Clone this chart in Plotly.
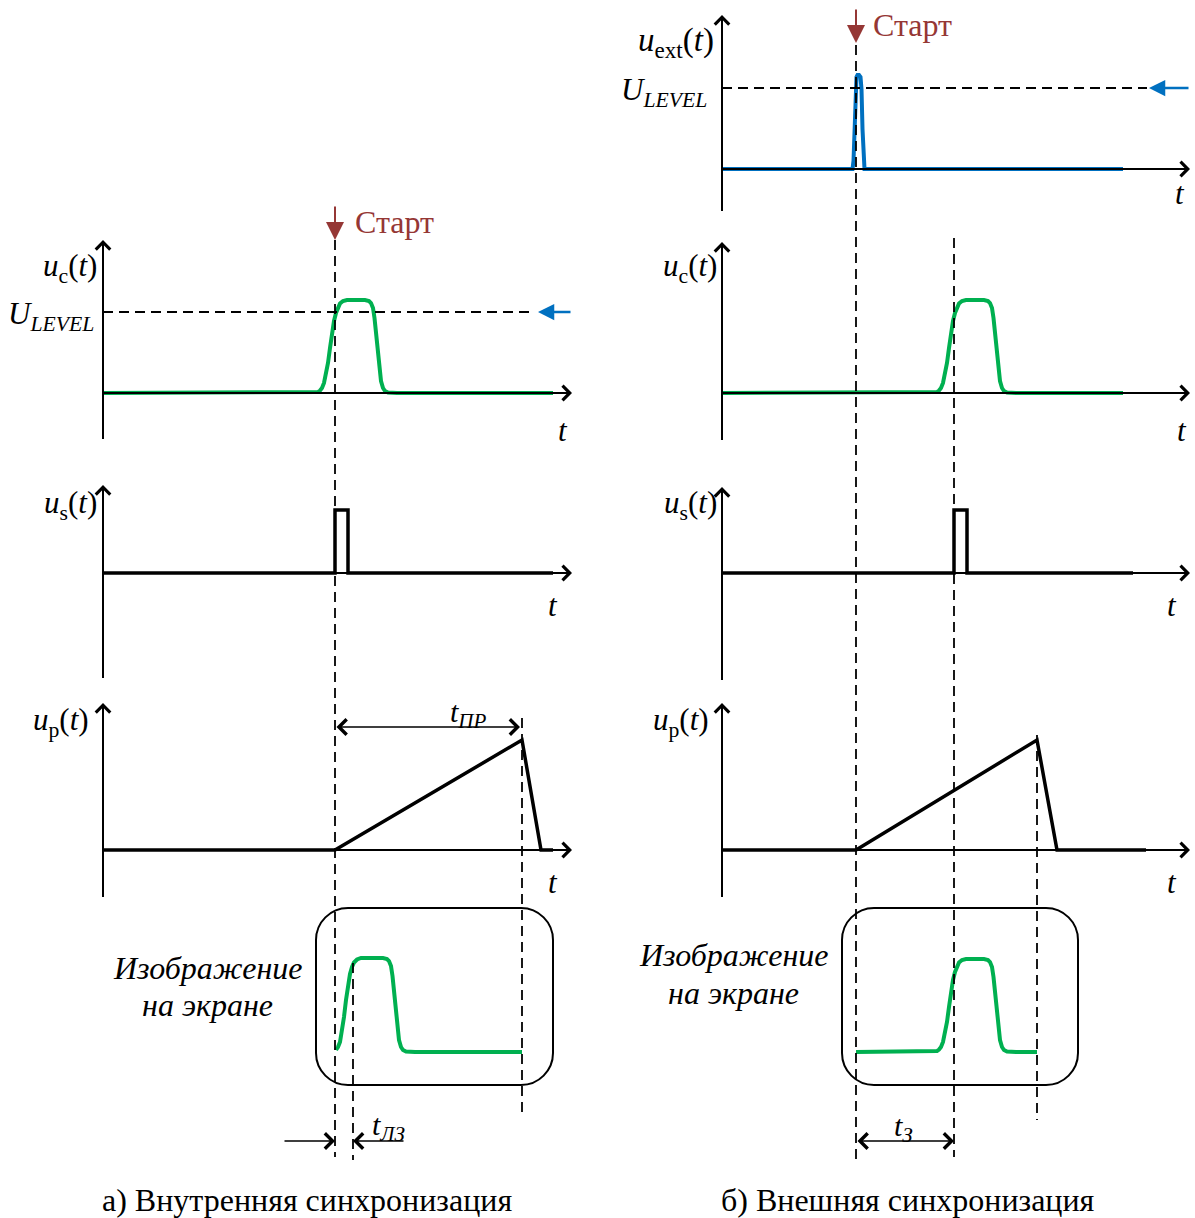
import plotly.graph_objects as go

W, H = 1195, 1218

# ---------------- data (time and amplitude measured from each panel origin) ----------------
U_LEVEL = 81          # trigger level
T_START_A = 232       # a) internal sync: start of sweep
T_DELAY_A = 18        # delay line  t_ЛЗ
T_SWEEP_A = 187       # sweep duration t_ПР
T_START_B = 134       # b) external sync: start of sweep
T_SYNC_B = 232        # moment of sync pulse (t_З = T_SYNC_B - T_START_B)
T_SWEEP_B = 181

a_uc_t = [0, 212, 215, 217, 219, 221, 223, 225, 227, 229, 231, 233, 235, 237, 240, 244,
          262, 266, 268, 270, 271.5, 273, 274.5, 276, 278, 280, 282, 285, 289, 294, 450]
a_uc_v = [0, 0, 1, 2.5, 5, 10, 18, 30, 45, 60, 72, 80, 86, 89.5, 92, 93,
          93, 92, 90, 85, 75, 60, 42, 25, 12, 5, 2, 0.5, 0, 0, 0]
a_us_t = [0, 232, 232, 245, 245, 450]
a_us_v = [0, 0, 63, 63, 0, 0]
a_up_t = [0, 232, 419, 438, 450]
a_up_v = [0, 0, 110, 0, 0]
a_scr_t = [233, 235, 237, 239, 241, 243, 245, 247, 249, 251, 254, 258,
           280, 284, 286, 288, 289.5, 291, 292.5, 294, 296, 298, 300, 303, 307, 312, 419]
a_scr_v = [2, 5, 10, 20, 35, 52, 67, 78, 85, 89.5, 92.5, 94,
           94, 93, 91, 86, 76, 60, 42, 25, 12, 5, 2, 0.5, 0, 0, 0]

b_ext_t = [0, 130.5, 131.5, 132.5, 133.5, 134.5, 135.5, 137, 138.5, 139.5, 140.5, 141.5, 142.5, 401]
b_ext_v = [0, 0, 8, 40, 80, 92, 94, 94, 92, 80, 40, 8, 0, 0]
b_uc_t = [0, 212, 215, 217, 219, 221, 223, 225, 227, 229, 231, 233, 235, 237, 240, 244,
          262, 266, 268, 270, 271.5, 273, 274.5, 276, 278, 280, 282, 285, 289, 294, 401]
b_uc_v = [0, 0, 1, 2.5, 5, 10, 18, 30, 45, 60, 72, 80, 86, 89.5, 92, 93,
          93, 92, 90, 85, 75, 60, 42, 25, 12, 5, 2, 0.5, 0, 0, 0]
b_us_t = [0, 232, 232, 245, 245, 411]
b_us_v = [0, 0, 63, 63, 0, 0]
b_up_t = [0, 134, 315, 335, 424]
b_up_v = [0, 0, 110, 0, 0]
b_scr_t = [134, 212, 215, 217, 219, 221, 223, 225, 227, 229, 231, 233, 235, 237, 240, 244,
           262, 266, 268, 270, 271.5, 273, 274.5, 276, 278, 280, 282, 285, 289, 294, 315]
b_scr_v = [0, 0, 1, 2.5, 5, 10, 18, 30, 45, 60, 72, 80, 86, 89.5, 92, 93,
           93, 92, 90, 85, 75, 60, 42, 25, 12, 5, 2, 0.5, 0, 0, 0]

# ---------------- layout (pixel positions of panel origins etc.) ----------------
FONT = "Liberation Serif"
GREEN, BLUE, BROWN = "#00B050", "#0070C0", "#953735"
DASH = "10px,6px"

COL_OX = {"a": 103, "b": 722}
PANEL_OY = {"a_uc": 393, "a_us": 573, "a_up": 850, "a_scr": 1052,
            "b_ext": 169, "b_uc": 393, "b_us": 573, "b_up": 850, "b_scr": 1052}
YAX = {"a_uc": "y", "a_us": "y2", "a_up": "y3", "a_scr": "y4",
       "b_ext": "y5", "b_uc": "y6", "b_us": "y7", "b_up": "y8", "b_scr": "y9"}
XAX = {"a": "x", "b": "x2"}

fig = go.Figure()


def add_sig(t, v, panel, color, width):
    fig.add_trace(go.Scatter(x=t, y=v, xaxis=XAX[panel[0]], yaxis=YAX[panel], mode="lines",
                             line=dict(color=color, width=width), hoverinfo="skip",
                             showlegend=False, cliponaxis=False))


add_sig(a_uc_t, a_uc_v, "a_uc", GREEN, 4)
add_sig(a_us_t, a_us_v, "a_us", "black", 3.5)
add_sig(a_up_t, a_up_v, "a_up", "black", 3.5)
add_sig(a_scr_t, a_scr_v, "a_scr", GREEN, 4)
add_sig(b_ext_t, b_ext_v, "b_ext", BLUE, 4)
add_sig(b_uc_t, b_uc_v, "b_uc", GREEN, 4)
add_sig(b_us_t, b_us_v, "b_us", "black", 3.5)
add_sig(b_up_t, b_up_v, "b_up", "black", 3.5)
add_sig(b_scr_t, b_scr_v, "b_scr", GREEN, 4)
# invisible anchor trace for the canvas axes
fig.add_trace(go.Scatter(x=[0], y=[0], xaxis="x3", yaxis="y10", mode="markers",
                         marker=dict(opacity=0), hoverinfo="skip", showlegend=False))

# axes
lay = {}
for col, xid in XAX.items():
    ox = COL_OX[col]
    key = "xaxis" if xid == "x" else "xaxis" + xid[1:]
    lay[key] = dict(domain=[0, 1], range=[-ox, W - ox], visible=False, fixedrange=True)
lay["xaxis3"] = dict(domain=[0, 1], range=[0, W], visible=False, fixedrange=True, anchor="y10")
for name, yid in YAX.items():
    oy = PANEL_OY[name]
    key = "yaxis" if yid == "y" else "yaxis" + yid[1:]
    lay[key] = dict(domain=[0, 1], range=[oy - H, oy], visible=False, fixedrange=True,
                    anchor=XAX[name[0]])
lay["yaxis10"] = dict(domain=[0, 1], range=[H, 0], visible=False, fixedrange=True, anchor="x3")


def arrow(xref, yref, x, y, ax, ay, color="black", width=2, head=4, size=1.4, side="end"):
    fig.add_annotation(xref=xref, yref=yref, axref=xref, ayref=yref, x=x, y=y, ax=ax, ay=ay,
                       text="", showarrow=True, arrowhead=head, startarrowhead=head,
                       arrowside=side, arrowsize=size, startarrowsize=size,
                       arrowwidth=width, arrowcolor=color)


def text(x, y, s, size=31, xanchor="center", color="black"):
    fig.add_annotation(xref="x3", yref="y10", x=x, y=y, text=s, showarrow=False,
                       xanchor=xanchor, yanchor="middle",
                       font=dict(family=FONT, size=size, color=color))


def seg(x0, y0, x1, y1, xref="x3", yref="y10", width=2, dash=None, layer="below", color="black"):
    ln = dict(color=color, width=width)
    if dash:
        ln["dash"] = dash
    fig.add_shape(type="line", xref=xref, yref=yref, x0=x0, y0=y0, x1=x1, y1=y1, line=ln, layer=layer)


# coordinate axes (pixel positions): origin x, bottom y, top y, origin y, x tip
AXES = [(103, 439, 240, 393, 572), (103, 678, 485, 573, 572), (103, 897, 703, 850, 572),
        (722, 211, 15, 169, 1190), (722, 440, 242, 393, 1190), (722, 680, 487, 573, 1190),
        (722, 897, 703, 850, 1190)]
for ox, yb, yt, oy, xt in AXES:
    seg(ox, yb, ox, yt + 4)
    seg(ox, oy, xt - 4, oy)
    arrow("x3", "y10", ox, yt, ox, yt + 18)
    arrow("x3", "y10", xt, oy, xt - 18, oy)

# U_LEVEL dashed lines and blue arrows
seg(0, U_LEVEL, 432, U_LEVEL, xref="x", yref="y", width=1.8, dash=DASH, layer="above")
arrow("x", "y", 435, U_LEVEL, 469, U_LEVEL, color=BLUE, width=2.5, head=2, size=1.3)
seg(0, U_LEVEL, 425, U_LEVEL, xref="x2", yref="y5", width=1.8, dash=DASH, layer="above")
arrow("x2", "y5", 427, U_LEVEL, 468, U_LEVEL, color=BLUE, width=2.5, head=2, size=1.3)

# vertical dashed event lines
seg(T_START_A, 240, T_START_A, 1157, xref="x", width=1.8, dash=DASH, layer="above")
seg(T_START_A + T_DELAY_A, 963, T_START_A + T_DELAY_A, 1160, xref="x", width=1.8, dash=DASH, layer="above")
seg(T_START_A + T_SWEEP_A, 718, T_START_A + T_SWEEP_A, 1115, xref="x", width=1.8, dash=DASH, layer="above")
seg(T_START_B, 45, T_START_B, 1160, xref="x2", width=1.8, dash=DASH, layer="above")
seg(T_SYNC_B, 238, T_SYNC_B, 1157, xref="x2", width=1.8, dash=DASH, layer="above")
seg(T_START_B + T_SWEEP_B, 735, T_START_B + T_SWEEP_B, 1120, xref="x2", width=1.8, dash=DASH, layer="above")

# Start arrows
arrow("x", "y10", T_START_A, 240, T_START_A, 205, color=BROWN, width=2, head=2, size=1.8)
arrow("x2", "y10", T_START_B, 43, T_START_B, 8, color=BROWN, width=2, head=2, size=1.8)
text(353, 222, "Старт", size=32, xanchor="left", color=BROWN)
text(871, 25, "Старт", size=32, xanchor="left", color=BROWN)

# dimension arrows
arrow("x", "y10", T_START_A + T_SWEEP_A - 2, 727, T_START_A, 727, width=1.5, head=4, size=2, side="end+start")
arrow("x", "y10", T_START_A, 1141, T_START_A - 52, 1141, width=1.5, head=4, size=2)
arrow("x", "y10", T_START_A + T_DELAY_A, 1141, T_START_A + T_DELAY_A + 52, 1141, width=1.5, head=4, size=2)
arrow("x2", "y10", T_SYNC_B, 1141, T_START_B, 1141, width=1.5, head=4, size=2, side="end+start")
text(468, 714, "<i>t<sub>ПР</sub></i>", size=30)
text(388, 1127, "<i>t<sub>ЛЗ</sub></i>", size=30)
text(903, 1128, "<i>t<sub>З</sub></i>", size=30)


# screens (rounded boxes)
def rbox(x0, y0, x1, y1, r):
    c = 0.552 * r
    p = (f"M{x0 + r},{y0} L{x1 - r},{y0} C{x1 - r + c},{y0} {x1},{y0 + r - c} {x1},{y0 + r} "
         f"L{x1},{y1 - r} C{x1},{y1 - r + c} {x1 - r + c},{y1} {x1 - r},{y1} "
         f"L{x0 + r},{y1} C{x0 + r - c},{y1} {x0},{y1 - r + c} {x0},{y1 - r} "
         f"L{x0},{y0 + r} C{x0},{y0 + r - c} {x0 + r - c},{y0} {x0 + r},{y0} Z")
    fig.add_shape(type="path", xref="x3", yref="y10", path=p, line=dict(color="black", width=2),
                  layer="below")


rbox(316, 908, 553, 1085, 32)
rbox(842, 908, 1078, 1085, 32)

# labels
text(99, 268, "<i>u</i><sub>с</sub>(<i>t</i>)", xanchor="right")
text(96, 316, "<i>U<sub>LEVEL</sub></i>", xanchor="right")
text(99, 505, "<i>u</i><sub>s</sub>(<i>t</i>)", xanchor="right")
text(91, 722, "<i>u</i><sub>р</sub>(<i>t</i>)", xanchor="right")
text(716, 42, "<i>u</i><sub>ext</sub>(<i>t</i>)", size=33, xanchor="right")
text(709, 92, "<i>U<sub>LEVEL</sub></i>", xanchor="right")
text(719, 268, "<i>u</i><sub>с</sub>(<i>t</i>)", xanchor="right")
text(719, 505, "<i>u</i><sub>s</sub>(<i>t</i>)", xanchor="right")
text(711, 722, "<i>u</i><sub>р</sub>(<i>t</i>)", xanchor="right")
for x, y in [(563, 430), (553, 605), (553, 882), (1180, 193), (1182, 430), (1172, 605), (1172, 882)]:
    text(x, y, "<i>t</i>")

text(207, 968, "<i>Изображение</i>", size=32)
text(207, 1005, "<i>на экране</i>", size=32)
text(733, 955, "<i>Изображение</i>", size=32)
text(733, 993, "<i>на экране</i>", size=32)

text(307, 1200, "а) Внутренняя синхронизация", size=32)
text(908, 1200, "б) Внешняя синхронизация", size=32)

fig.update_layout(width=W, height=H, autosize=False, margin=dict(l=0, r=0, t=0, b=0, pad=0),
                  paper_bgcolor="white", plot_bgcolor="rgba(0,0,0,0)", showlegend=False,
                  font=dict(family=FONT), **lay)

fig.write_html("out.html", config={"displayModeBar": False},
               post_script="document.body.style.margin='0';document.body.style.overflow='hidden';")
